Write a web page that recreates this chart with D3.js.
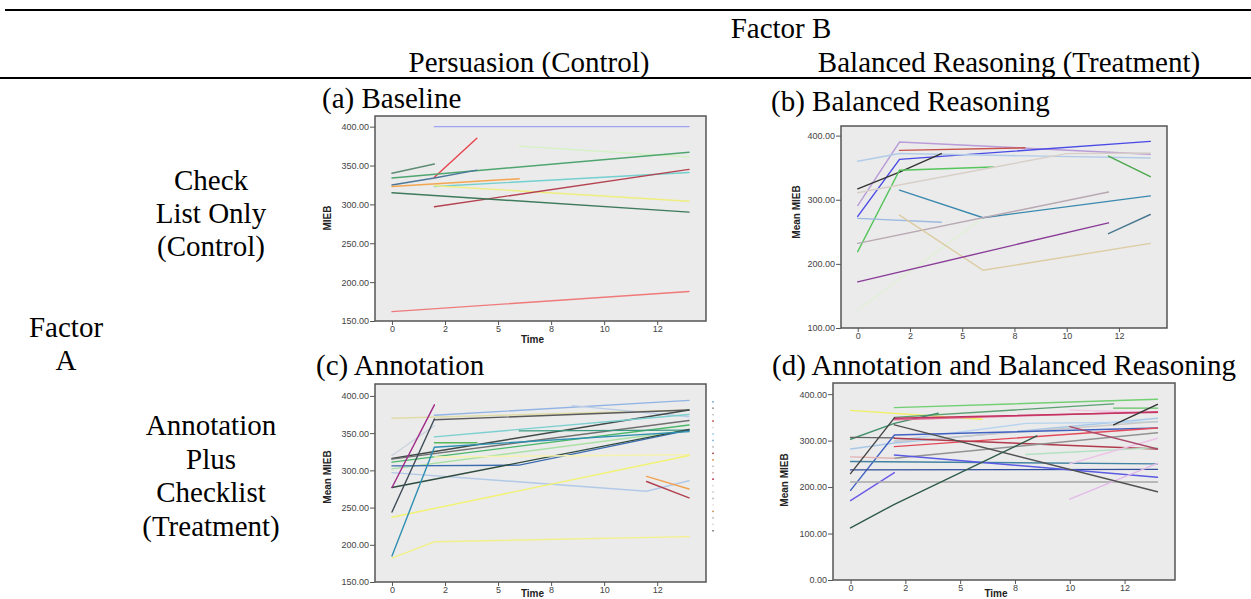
<!DOCTYPE html>
<html><head><meta charset="utf-8">
<script src="https://cdn.jsdelivr.net/npm/d3@7"></script>
<style>
body{margin:0;background:#fff;}
svg{display:block;}
.serif{font-family:"Liberation Serif","Times New Roman",serif;font-size:29px;fill:#000;}
.tick text{font-family:"Liberation Sans",Arial,sans-serif;font-size:9px;fill:#444;}
.tick line{stroke:#555;}
</style></head><body>
<svg id="c" width="1251" height="599"></svg>
<script>
// ---------- text ----------
const headerFactorB = "Factor B";
const colHeaders = ["Persuasion (Control)", "Balanced Reasoning (Treatment)"];
const panelTitles = ["(a) Baseline", "(b) Balanced Reasoning", "(c) Annotation", "(d) Annotation and Balanced Reasoning"];
const rowLabel1 = ["Check", "List Only", "(Control)"];
const rowLabel2 = ["Annotation", "Plus", "Checklist", "(Treatment)"];
const factorA = ["Factor", "A"];
const yTitles = ["MIEB", "Mean MIEB", "Mean MIEB", "Mean MIEB"];

// ---------- axes ----------
const xTickValues = [0, 2.5, 5, 7.5, 10, 12.5];
const xTickLabels = ["0", "2", "5", "8", "10", "12"];
const yTicksA = [150, 200, 250, 300, 350, 400];
const yTicksB = [100, 200, 300, 400];
const yTicksC = [150, 200, 250, 300, 350, 400];
const yTicksD = [0, 100, 200, 300, 400];

// ---------- series: [time, MIEB] ----------
const seriesA = [
  [[2,400],[14,400]],
  [[2,335],[4,385]],
  [[6,375],[14,361]],
  [[0,334],[14,367]],
  [[0,340],[2,352]],
  [[0,325],[2,334],[4,344]],
  [[0,323],[6,333]],
  [[2,323],[14,341]],
  [[2,324],[14,304]],
  [[2,297],[14,345]],
  [[0,315],[14,290]],
  [[0,162],[14,188]]
];
const colorsA = ["#9fa2f2","#e8444c","#d4f2c4","#4fa56f","#5d8c72","#4b7899","#f3a650","#74cfcf","#eeee80","#b4424f","#3f7a5c","#ef7a7a"];

const seriesB = [
  [[0,128],[6,272]],
  [[0,291],[2,390],[14,371]],
  [[2,377],[8,381]],
  [[0,274],[2,363],[14,391]],
  [[0,360],[2,372],[14,365]],
  [[0,317],[2,343],[4,372]],
  [[0,219],[2,346],[6.5,351]],
  [[0,311],[10,372],[14,373]],
  [[12,368],[14,336]],
  [[2,315],[6,272],[14,306]],
  [[0,271],[4,265]],
  [[0,232],[12,312]],
  [[2,276],[6,190],[14,232]],
  [[0,172],[12,264]],
  [[12,247],[14,277]]
];
const colorsB = ["#e2f0d6","#b99cd8","#c8524c","#4a4ae6","#b2cce8","#333333","#55c55c","#d8d0c8","#4aa84c","#3b89ae","#9cb9e0","#b8a8b2","#dccca2","#8a3c98","#4b7890"];

const seriesC = [
  [[0,320],[2,360]],
  [[0,297],[12,272],[14,286]],
  [[0,370],[14,381]],
  [[2,374],[14,394]],
  [[8.5,387],[14,372]],
  [[2,368],[14,381]],
  [[0,316],[14,381]],
  [[0,315],[14,367]],
  [[2,345],[14,375]],
  [[0,311],[14,361]],
  [[0,302],[14,354]],
  [[6,353],[14,354]],
  [[0,306],[6,307],[14,354]],
  [[0,277],[2,288],[14,355]],
  [[2,337],[4,337]],
  [[2,318],[14,321]],
  [[0,237],[14,320]],
  [[0,182],[2,204],[14,211]],
  [[12,292],[14,275]],
  [[12,285],[14,263]],
  [[0,185],[2,331],[14,352]],
  [[0,244],[2,369]],
  [[0,277],[2,388]]
];
const colorsC = ["#ccd4de","#b2c9e8","#e0dcaa","#92b4e4","#bccde6","#5a5a5a","#404a48","#707070","#7ccfd0","#4ab868","#a8e0a2","#3b9a80","#3c6cb0","#2f4c40","#58b858","#f6f2b0","#f2f272","#f2f08c","#f0a252","#b04252","#2f8fb0","#404c58","#a02a88"];
const legendC = ["#8ab4e0","#a0a0a0","#c8c8c8","#d06060","#e0e0e0","#a8d0e8","#90c0e0","#c0c0c0","#b06060","#e0a060","#c8c8c8","#d8b8b8","#c04860","#e0e0e0","#d0d0d0","#c0c0c0","#e8e8e8","#d0a070","#c0c0c0","#e0e0e0","#909090"];

const seriesD = [
  [[2,371],[14,389]],
  [[10,366],[14,360]],
  [[12,370],[14,370]],
  [[0,365],[6,346]],
  [[2,350],[12,379]],
  [[0,303],[2,337],[4,359]],
  [[2,345],[14,362]],
  [[2,348],[14,361]],
  [[0,282],[2,295],[14,348]],
  [[2,300],[8,337],[14,340]],
  [[2,298],[14,341]],
  [[0,307],[2,306]],
  [[0,193],[2,312],[14,327]],
  [[2,287],[14,327]],
  [[2,305],[14,282]],
  [[2,262],[14,317]],
  [[0,265],[2,262]],
  [[8,270],[14,285]],
  [[0,255],[14,250]],
  [[0,237],[14,238]],
  [[2,269],[14,221]],
  [[0,171],[2,231]],
  [[0,211],[14,211]],
  [[10,174],[14,251]],
  [[10,250],[14,305]],
  [[10,330],[14,282]],
  [[12,334],[14,378]],
  [[0,229],[2,349]],
  [[2,334],[14,190]],
  [[0,112],[2,163],[8.5,310]]
];
const colorsD = ["#72cf72","#f0c8e2","#62c262","#f0f062","#5aa070","#42906a","#e26a92","#c23262","#a8c8e8","#b8d4f0","#c8c8c8","#626262","#4262c2","#e24a5a","#b03a4a","#929292","#e0b2b2","#b2e0c2","#4282a2","#324e9a","#5a5ae2","#6c5ae8","#a8a8a8","#e2bae8","#ecc2e8","#aa4a6a","#333333","#464646","#525252","#2f5a48"];

// ---------- layout ----------
const svg = d3.select("#c");
svg.append("line").attr("x1",5).attr("x2",1251).attr("y1",10).attr("y2",10).attr("stroke","#000").attr("stroke-width",2);
svg.append("line").attr("x1",0).attr("x2",1251).attr("y1",78).attr("y2",78).attr("stroke","#000").attr("stroke-width",2);

function txt(s, x, y, anchor){
  svg.append("text").attr("class","serif").attr("x",x).attr("y",y).attr("text-anchor",anchor||"start").text(s);
}
txt(headerFactorB, 781, 38, "middle");
txt(colHeaders[0], 529, 72, "middle");
txt(colHeaders[1], 1009, 72, "middle");
txt(panelTitles[0], 322, 108);
txt(panelTitles[1], 771, 111);
txt(panelTitles[2], 316, 375);
txt(panelTitles[3], 772, 375);
rowLabel1.forEach((s,i)=>txt(s, 211, 190 + i*33, "middle"));
factorA.forEach((s,i)=>txt(s, 66, 337 + i*33, "middle"));
rowLabel2.forEach((s,i)=>txt(s, 211, 435 + i*33.7, "middle"));

function panel(o){
  const g = svg.append("g");
  const x = d3.scaleLinear().domain([-0.8, 14.8]).range([o.x0, o.x1]);
  const y = d3.scaleLinear().domain(o.yDom).range([o.y1, o.y0]);
  g.append("rect").attr("x",o.x0).attr("y",o.y0).attr("width",o.x1-o.x0).attr("height",o.y1-o.y0)
    .attr("fill","#ebebeb").attr("stroke","#555").attr("stroke-width",1.5);
  const line = d3.line().x(d=>x(d[0])).y(d=>y(d[1]));
  o.series.forEach((s,i)=>{
    g.append("path").attr("d",line(s)).attr("fill","none").attr("stroke",o.colors[i])
      .attr("stroke-width",1.4).attr("stroke-linecap","round");
  });
  const ya = g.append("g").attr("transform",`translate(${o.x0},0)`)
    .call(d3.axisLeft(y).tickValues(o.yTicks).tickFormat(d3.format(".2f")).tickSize(5).tickSizeOuter(0).tickPadding(1));
  ya.select(".domain").remove();
  const xa = g.append("g").attr("transform",`translate(0,${o.y1})`)
    .call(d3.axisBottom(x).tickValues(xTickValues).tickFormat((d,i)=>xTickLabels[i]).tickSize(4).tickSizeOuter(0).tickPadding(1));
  xa.select(".domain").remove();
  g.append("text").attr("transform",`translate(${o.ytx},${o.yty}) rotate(-90)`).attr("text-anchor","middle")
    .style("font-family","'Liberation Sans',Arial,sans-serif").style("font-size","10px").style("font-weight","bold")
    .attr("fill","#222").text(o.yTitle);
  if (o.timeY) {
    g.append("text").attr("x",(o.x0+o.x1)/2 - 8).attr("y",o.timeY).attr("text-anchor","middle")
      .style("font-family","'Liberation Sans',Arial,sans-serif").style("font-size","10px").style("font-weight","bold")
      .attr("fill","#222").text("Time");
  }
  return g;
}

panel({x0:375,x1:706,y0:116,y1:321,yDom:[150,413.7],yTicks:yTicksA,series:seriesA,colors:colorsA,yTitle:yTitles[0],ytx:331,yty:218,timeY:343});
panel({x0:841,x1:1167,y0:126,y1:328,yDom:[100,415],yTicks:yTicksB,series:seriesB,colors:colorsB,yTitle:yTitles[1],ytx:800,yty:212});
const pc = panel({x0:375,x1:706,y0:384,y1:582,yDom:[150,416],yTicks:yTicksC,series:seriesC,colors:colorsC,yTitle:yTitles[2],ytx:331,yty:477,timeY:597});
panel({x0:833,x1:1175,y0:383,y1:580,yDom:[0,424],yTicks:yTicksD,series:seriesD,colors:colorsD,yTitle:yTitles[3],ytx:788,yty:480,timeY:597});

// truncated legend marks beside panel (c)
const ly = d3.scaleLinear().domain([0, legendC.length-1]).range([401, 530]);
pc.selectAll("rect.lg").data(legendC).join("rect").attr("class","lg")
  .attr("x",712).attr("y",(d,i)=>ly(i)).attr("width",2).attr("height",1.5).attr("fill",d=>d);
</script>
</body></html>
